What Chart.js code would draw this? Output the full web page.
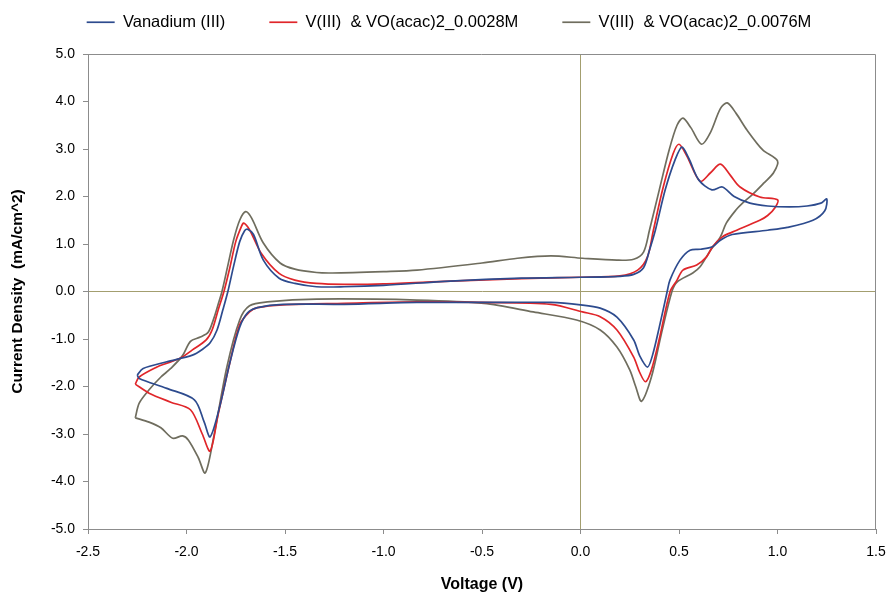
<!DOCTYPE html>
<html lang="en">
<head>
  <meta charset="UTF-8">
  <title>CV Chart</title>
  <script src="https://cdn.jsdelivr.net/npm/chart.js"></script>
  <style>
    body { margin: 0; background: #fff; }
    #wrap { width: 890px; height: 596px; }
  </style>
</head>
<body>
  <div id="wrap"><canvas id="cvChart" width="890" height="596"></canvas></div>

  <script>
    const seriesNames = ['Vanadium (III)', 'V(III)  & VO(acac)2_0.0028M', 'V(III)  & VO(acac)2_0.0076M'];

    // Vanadium (III): forward scan then return scan (V, mA/cm^2)
    const vanV = [-2.25, -2.22, -2.1, -1.97, -1.92, -1.88, -1.845, -1.815, -1.79, -1.76, -1.73, -1.705, -1.69, -1.66, -1.61, -1.53, -1.45, -1.34, -1.2, -1.0, -0.66, -0.3, 0.0, 0.2, 0.27, 0.32, 0.35, 0.38, 0.43, 0.48, 0.515, 0.55, 0.6, 0.667, 0.72, 0.78, 0.86, 0.95, 1.06, 1.15, 1.22, 1.25,
      1.24, 1.18, 1.05, 0.95, 0.77, 0.71, 0.67, 0.61, 0.556, 0.505, 0.454, 0.44, 0.4, 0.365, 0.34, 0.3, 0.27, 0.185, 0.1, 0.0, -0.15, -0.5, -0.83, -1.2, -1.51, -1.64, -1.69, -1.73, -1.78, -1.83, -1.88, -1.91, -1.96, -2.1, -2.24, -2.25];
    const vanI = [-1.76, -1.62, -1.48, -1.34, -1.22, -1.08, -0.81, -0.38, 0.0, 0.55, 1.05, 1.28, 1.31, 1.2, 0.66, 0.28, 0.17, 0.1, 0.1, 0.13, 0.22, 0.28, 0.3, 0.32, 0.36, 0.5, 0.87, 1.29, 2.14, 2.77, 3.04, 2.8, 2.35, 2.14, 2.2, 2.0, 1.86, 1.8, 1.78, 1.8, 1.86, 1.95,
      1.7, 1.5, 1.35, 1.29, 1.2, 1.08, 0.94, 0.89, 0.87, 0.66, 0.24, 0.0, -0.75, -1.35, -1.59, -1.35, -1.02, -0.54, -0.35, -0.28, -0.23, -0.23, -0.23, -0.27, -0.27, -0.34, -0.45, -0.75, -1.5, -2.4, -3.06, -2.75, -2.28, -2.04, -1.83, -1.76];

    // V(III) & VO(acac)2 0.0028M
    const m28V = [-2.26, -2.24, -2.15, -2.1, -2.03, -1.97, -1.9, -1.87, -1.84, -1.81, -1.78, -1.75, -1.72, -1.71, -1.68, -1.62, -1.53, -1.45, -1.34, -1.2, -1.0, -0.66, -0.3, 0.0, 0.2, 0.29, 0.34, 0.37, 0.42, 0.47, 0.5, 0.54, 0.607, 0.66, 0.71, 0.76, 0.81, 0.91, 1.0,
      0.99, 0.95, 0.91, 0.77, 0.72, 0.67, 0.64, 0.59, 0.52, 0.49, 0.455, 0.4, 0.36, 0.33, 0.3, 0.27, 0.185, 0.1, 0.01, -0.15, -0.5, -0.83, -1.2, -1.51, -1.64, -1.68, -1.73, -1.78, -1.84, -1.88, -1.92, -1.98, -2.08, -2.19, -2.26];
    const m28I = [-1.95, -1.8, -1.59, -1.51, -1.4, -1.23, -1.02, -0.81, -0.4, 0.0, 0.5, 1.05, 1.38, 1.44, 1.3, 0.8, 0.38, 0.24, 0.17, 0.15, 0.16, 0.22, 0.27, 0.3, 0.33, 0.45, 0.73, 1.29, 2.2, 2.9, 3.1, 2.85, 2.32, 2.5, 2.68, 2.45, 2.2, 1.99, 1.93,
      1.78, 1.6, 1.5, 1.25, 1.15, 0.94, 0.73, 0.56, 0.45, 0.24, 0.0, -1.0, -1.65, -1.9, -1.7, -1.38, -0.81, -0.53, -0.43, -0.27, -0.23, -0.22, -0.25, -0.28, -0.34, -0.43, -0.7, -1.5, -2.6, -3.36, -3.0, -2.49, -2.33, -2.14, -1.95];

    // V(III) & VO(acac)2 0.0076M
    const m76V = [-2.26, -2.24, -2.19, -2.13, -2.08, -2.02, -1.98, -1.93, -1.89, -1.86, -1.84, -1.82, -1.79, -1.76, -1.73, -1.7, -1.67, -1.61, -1.525, -1.45, -1.34, -1.26, -1.0, -0.83, -0.5, -0.32, -0.15, 0.01, 0.185, 0.27, 0.32, 0.35, 0.4, 0.45, 0.49, 0.52, 0.56, 0.615, 0.66, 0.71, 0.745, 0.79, 0.845, 0.925, 1.0,
      0.98, 0.93, 0.875, 0.82, 0.79, 0.74, 0.71, 0.66, 0.607, 0.57, 0.49, 0.464, 0.41, 0.36, 0.31, 0.28, 0.25, 0.185, 0.1, -0.02, -0.24, -0.49, -0.83, -1.34, -1.59, -1.68, -1.73, -1.795, -1.865, -1.905, -1.94, -1.99, -2.02, -2.07, -2.13, -2.19, -2.26];
    const m76I = [-2.66, -2.35, -2.07, -1.8, -1.62, -1.35, -1.05, -0.96, -0.86, -0.55, -0.28, 0.0, 0.55, 1.1, 1.5, 1.68, 1.55, 1.02, 0.6, 0.47, 0.4, 0.39, 0.42, 0.45, 0.6, 0.7, 0.75, 0.7, 0.66, 0.68, 0.83, 1.29, 2.14, 2.98, 3.5, 3.65, 3.45, 3.1, 3.35, 3.85, 3.97, 3.75, 3.4, 2.98, 2.75,
      2.5, 2.28, 2.05, 1.85, 1.72, 1.44, 1.15, 0.87, 0.52, 0.39, 0.2, 0.0, -0.9, -1.8, -2.31, -2.0, -1.65, -1.17, -0.81, -0.6, -0.43, -0.25, -0.18, -0.16, -0.22, -0.3, -0.6, -1.59, -3.13, -3.82, -3.5, -3.13, -3.04, -3.09, -2.87, -2.75, -2.66];

    const colors = ['#2d4b8e', '#e0262a', '#6f6d5e'];
    const olive = '#a39e6f';
    const frame = '#8c8c8c';
    const font = 'Liberation Sans, Arial, sans-serif';

    function pts(xs, ys) {
      return xs.map((x, i) => ({ x: x, y: ys[i] }));
    }

    const frameBox = {
      id: 'frameBox',
      beforeInit(chart) {
        const lg = chart.legend;
        if (lg) {
          const fit = lg.fit;
          lg.fit = function () { fit.call(this); this.height = 52; };
        }
      },
      afterLayout(chart) {
        // legend items are drawn at top + labels.padding; pull them up to the reference row
        if (chart.legend) chart.legend.top = -30;
      },
      afterDatasetsDraw(chart) {
        const a = chart.chartArea, c = chart.ctx;
        c.save();
        c.strokeStyle = frame;
        c.lineWidth = 1;
        c.beginPath();
        c.moveTo(a.left, a.top + 0.5);
        c.lineTo(a.right - 0.5, a.top + 0.5);
        c.lineTo(a.right - 0.5, a.bottom);
        c.stroke();
        c.restore();
      }
    };

    const ctx = document.getElementById('cvChart').getContext('2d');
    new Chart(ctx, {
      type: 'scatter',
      data: {
        datasets: [
          { label: seriesNames[0], data: pts(vanV, vanI), borderColor: colors[0], backgroundColor: colors[0] },
          { label: seriesNames[1], data: pts(m28V, m28I), borderColor: colors[1], backgroundColor: colors[1] },
          { label: seriesNames[2], data: pts(m76V, m76I), borderColor: colors[2], backgroundColor: colors[2] }
        ].map(d => Object.assign(d, { showLine: true, pointRadius: 0, borderWidth: 1.7, tension: 0.3, fill: false }))
      },
      options: {
        responsive: false,
        animation: false,
        layout: { padding: { top: 2, left: 8, right: 0, bottom: 0 } },
        plugins: {
          tooltip: { enabled: false },
          legend: {
            position: 'top',
            labels: {
              usePointStyle: true,
              pointStyle: 'line',
              pointStyleWidth: 28,
              padding: 44,
              color: '#000',
              font: { family: font, size: 16.5 }
            }
          }
        },
        scales: {
          x: {
            type: 'linear',
            min: -2.5, max: 1.5,
            afterFit: s => { s.height = 67; s.paddingRight = 14; s.paddingLeft = 0; },
            border: { color: frame },
            grid: {
              color: c => (c.tick && c.tick.value === 0 ? olive : 'rgba(0,0,0,0)'),
              tickColor: frame,
              tickLength: 5
            },
            ticks: {
              stepSize: 0.5,
              padding: 10,
              color: '#000',
              font: { family: font, size: 14 },
              callback: v => v.toFixed(1)
            },
            title: {
              display: true,
              text: 'Voltage (V)',
              color: '#000',
              padding: { top: 4, bottom: 2 },
              font: { family: font, size: 16, weight: 'bold' }
            }
          },
          y: {
            type: 'linear',
            min: -5, max: 5,
            afterFit: s => { s.width = 80; },
            border: { color: frame },
            grid: {
              color: c => (c.tick && c.tick.value === 0 ? olive : 'rgba(0,0,0,0)'),
              tickColor: frame,
              tickLength: 5
            },
            ticks: {
              stepSize: 1,
              padding: 8,
              color: '#000',
              font: { family: font, size: 14 },
              callback: v => v.toFixed(1)
            },
            title: {
              display: true,
              text: 'Current Density  (mA/cm^2)',
              color: '#000',
              padding: { top: 0, bottom: 0 },
              font: { family: font, size: 15.5, weight: 'bold' }
            }
          }
        }
      },
      plugins: [frameBox]
    });
  </script>
</body>
</html>
